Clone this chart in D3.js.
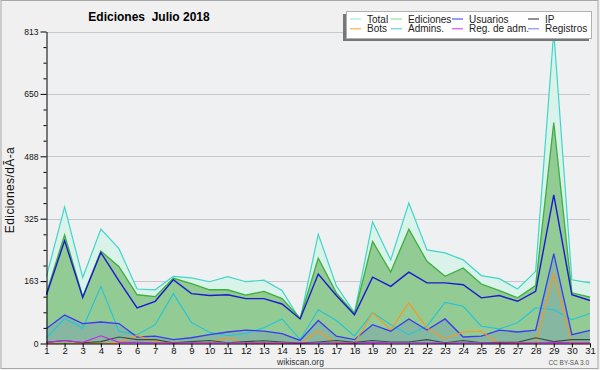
<!DOCTYPE html>
<html>
<head>
<meta charset="utf-8">
<script src="https://cdn.jsdelivr.net/npm/d3@7"></script>
<style>
  body { margin: 0; background: #f0f0f0; }
  svg { display: block; font-family: 'Liberation Sans', Arial, sans-serif; }
</style>
</head>
<body>
<div id="chart"></div>
<script>
// días del mes
const days = d3.range( 1, 32 );

const total     = [175, 356, 172, 298, 247, 142, 140, 175, 171, 161, 174, 161, 165, 138, 62, 285, 150, 80, 317, 218, 366, 244, 236, 218, 177, 169, 142, 188, 813, 166, 158];
const ediciones = [132, 283, 122, 241, 200, 127, 122, 170, 156, 140, 140, 126, 136, 117, 66, 222, 132, 78, 266, 186, 298, 214, 175, 197, 155, 138, 119, 151, 576, 132, 121];
const usuarios  = [127, 268, 120, 237, 163, 93, 110, 166, 130, 125, 127, 117, 117, 103, 64, 181, 125, 75, 173, 149, 186, 158, 158, 153, 119, 125, 110, 136, 387, 127, 112];
const registros = [39, 74, 52, 56, 52, 17, 19, 10, 15, 23, 30, 35, 32, 26, 8, 60, 19, 10, 49, 32, 64, 35, 64, 17, 19, 35, 30, 35, 234, 23, 34];
const admins    = [15, 65, 40, 149, 32, 23, 49, 130, 55, 29, 21, 26, 41, 64, 10, 88, 60, 19, 81, 49, 23, 45, 107, 97, 45, 38, 54, 93, 88, 62, 78];
const bots      = [0, 0, 0, 0, 3, 21, 5, 0, 4, 2, 15, 0, 0, 0, 0, 32, 0, 0, 80, 36, 106, 41, 12, 30, 32, 0, 0, 0, 181, 0, 0];
const ip        = [3, 8, 2, 5, 17, 10, 10, 2, 5, 8, 2, 5, 7, 4, 1, 4, 8, 3, 8, 4, 4, 10, 2, 8, 2, 3, 3, 15, 5, 10, 10];
const regAdm    = [3, 8, 3, 20, 3, 3, 2, 2, 2, 2, 2, 2, 2, 2, 1, 2, 2, 1, 3, 2, 2, 2, 1, 2, 2, 1, 2, 2, 3, 2, 2];

const yMax       = 813;
const yTicks     = [0, 162.6, 325.2, 487.8, 650.4, 813];
const yTickNames = ['0', '163', '325', '488', '650', '813'];

const legendNames  = ['Total', 'Ediciones', 'Usuarios', 'IP', 'Bots', 'Admins.', 'Reg. de adm.', 'Registros'];
const legendColors = ['#90e4dc', '#88d488', '#3333ee', '#222222', '#ffa030', '#44ccdd', '#cc33ee', '#7777ee'];

const width  = 600;
const height = 370;

const svg = d3.select( '#chart' )
              .append( 'svg' )
              .attr( 'width', width )
              .attr( 'height', height );

svg.append( 'rect' )
   .attr( 'x', 1 ).attr( 'y', 0.5 )
   .attr( 'width', 597 ).attr( 'height', 368 )
   .attr( 'fill', '#f0f0f0' )
   .attr( 'stroke', '#a8a8a8' );

const x = d3.scaleLinear().domain( [1, 31] ).range( [46.5, 590] );
const y = d3.scaleLinear().domain( [0, yMax] ).range( [343.5, 31.5] );

svg.append( 'rect' )
   .attr( 'x', x( 1 ) ).attr( 'y', y( yMax ) )
   .attr( 'width', x( 31 ) - x( 1 ) ).attr( 'height', y( 0 ) - y( yMax ) )
   .attr( 'fill', '#eff0f2' );

// rejilla
svg.append( 'g' )
   .selectAll( 'line' )
   .data( yTicks.slice( 1 ) )
   .enter()
   .append( 'line' )
   .attr( 'x1', x( 1 ) ).attr( 'x2', x( 31 ) )
   .attr( 'y1', d => Math.round( y( d ) ) + 0.5 )
   .attr( 'y2', d => Math.round( y( d ) ) + 0.5 )
   .attr( 'stroke', '#c8c8cc' );

const area = vals => d3.area()
                       .x( ( d, i ) => x( days[i] ) )
                       .y0( y( 0 ) )
                       .y1( d => y( d ) )( vals );

const line = vals => d3.line()
                       .x( ( d, i ) => x( days[i] ) )
                       .y( d => y( d ) )( vals );

const plot = svg.append( 'g' );

plot.append( 'path' ).attr( 'd', area( total ) ).attr( 'fill', '#d9f2ea' );
plot.append( 'path' ).attr( 'd', line( total ) ).attr( 'fill', 'none' ).attr( 'stroke', '#3fd6c8' ).attr( 'stroke-width', 1.2 );
plot.append( 'path' ).attr( 'd', area( ediciones ) ).attr( 'fill', '#92cb94' );
plot.append( 'path' ).attr( 'd', line( ediciones ) ).attr( 'fill', 'none' ).attr( 'stroke', '#3caf3c' ).attr( 'stroke-width', 1.3 );
plot.append( 'path' ).attr( 'd', area( registros ) ).attr( 'fill', 'rgba(51,51,255,0.12)' );

const lines = [
	{ vals : admins, color : '#22c4dc', w : 1.1 },
	{ vals : usuarios, color : '#1a1ad0', w : 1.4 },
	{ vals : registros, color : '#3b3bf0', w : 1.3 },
	{ vals : bots, color : '#ff9420', w : 1.1 },
	{ vals : ip, color : '#3a4a48', w : 1.1 },
	{ vals : regAdm, color : '#cc22ee', w : 1.1 }
];

plot.selectAll( '.serie' )
    .data( lines )
    .enter()
    .append( 'path' )
    .attr( 'class', 'serie' )
    .attr( 'd', d => line( d.vals ) )
    .attr( 'fill', 'none' )
    .attr( 'stroke', d => d.color )
    .attr( 'stroke-width', d => d.w );

// ejes
const yAxis = svg.append( 'g' )
                 .attr( 'transform', `translate(${x( 1 )},0)` )
                 .call( d3.axisLeft( y ).tickValues( yTicks ).tickFormat( ( d, i ) => yTickNames[i] ).tickSize( 6 ).tickSizeOuter( 0 ) );

const minor = [];
for ( let i = 0; i < 5; i += 1 ) {
	for ( let j = 1; j < 4; j += 1 ) {
		minor.push( yMax * ( i + j / 4 ) / 5 );
	}
}
svg.append( 'g' )
   .attr( 'transform', `translate(${x( 1 )},0)` )
   .call( d3.axisLeft( y ).tickValues( minor ).tickFormat( '' ).tickSize( 3 ).tickSizeOuter( 0 ) )
   .select( '.domain' ).remove();

const xAxis = svg.append( 'g' )
                 .attr( 'transform', `translate(0,${y( 0 )})` )
                 .call( d3.axisBottom( x ).tickValues( days ).tickFormat( d3.format( 'd' ) ).tickSize( 4 ).tickSizeOuter( 0 ) );

svg.selectAll( '.tick text' )
   .attr( 'font-family', 'Liberation Sans, Arial, sans-serif' )
   .attr( 'font-size', '8.5px' )
   .attr( 'fill', '#111' );
yAxis.selectAll( '.tick text' ).attr( 'x', -8 );
xAxis.selectAll( '.tick text' ).attr( 'y', 3.5 ).attr( 'font-size', '9.5px' );
svg.selectAll( '.domain, .tick line' ).attr( 'stroke', '#000' );

// textos
svg.append( 'text' )
   .attr( 'x', 149 ).attr( 'y', 21 )
   .attr( 'text-anchor', 'middle' )
   .attr( 'font-size', '12px' )
   .attr( 'font-weight', 'bold' )
   .style( 'white-space', 'pre' )
   .text( 'Ediciones  Julio 2018' );

svg.append( 'text' )
   .attr( 'transform', 'translate(13.5,190) rotate(-90)' )
   .attr( 'text-anchor', 'middle' )
   .attr( 'font-size', '12px' )
   .attr( 'letter-spacing', '0.4px' )
   .attr( 'fill', '#111' )
   .text( 'Ediciones/dÃ-a' );

svg.append( 'text' )
   .attr( 'x', 300.5 ).attr( 'y', 365 )
   .attr( 'text-anchor', 'middle' )
   .attr( 'font-size', '8.5px' )
   .attr( 'fill', '#333' )
   .text( 'wikiscan.org' );

svg.append( 'text' )
   .attr( 'x', 589 ).attr( 'y', 365 )
   .attr( 'text-anchor', 'end' )
   .attr( 'font-size', '6.5px' )
   .attr( 'fill', '#555' )
   .text( 'CC BY-SA 3.0' );

// leyenda
const legend = svg.append( 'g' );
legend.append( 'rect' )
      .attr( 'x', 343 ).attr( 'y', 14 )
      .attr( 'width', 246 ).attr( 'height', 27 )
      .attr( 'fill', '#777' );
legend.append( 'rect' )
      .attr( 'x', 346.5 ).attr( 'y', 11.5 )
      .attr( 'width', 245 ).attr( 'height', 27 )
      .attr( 'fill', '#fff' )
      .attr( 'stroke', '#b0b0b0' );

const colX = [367, 408, 469, 545];
const rowY = [22.5, 32.3];

const item = legend.selectAll( '.item' )
                   .data( legendNames )
                   .enter()
                   .append( 'g' )
                   .attr( 'class', 'item' )
                   .attr( 'transform', ( d, i ) => `translate(${colX[i % 4]},${rowY[Math.floor( i / 4 )]})` );

item.append( 'line' )
    .attr( 'x1', -17 ).attr( 'x2', -6 )
    .attr( 'y1', -3.5 ).attr( 'y2', -3.5 )
    .attr( 'stroke', ( d, i ) => legendColors[i] );

item.append( 'text' )
    .attr( 'font-size', '10px' )
    .attr( 'fill', '#222' )
    .text( d => d );
</script>
</body>
</html>
